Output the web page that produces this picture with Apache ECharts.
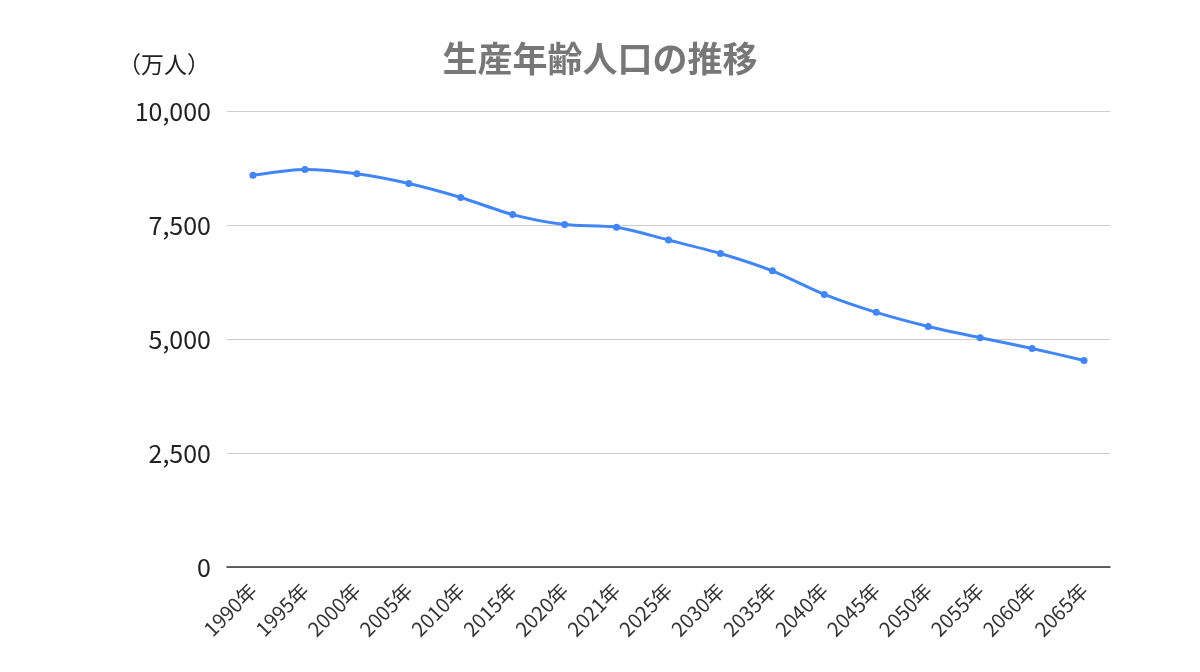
<!DOCTYPE html>
<html><head><meta charset="utf-8">
<script src="https://cdn.jsdelivr.net/npm/echarts@6/dist/echarts.min.js"></script>
<style>html,body{margin:0;padding:0;background:#fff}#c{width:1200px;height:672px}</style>
</head><body><div id="c"></div>
<script>
const categories = ['1990年','1995年','2000年','2005年','2010年','2015年','2020年','2021年','2025年','2030年','2035年','2040年','2045年','2050年','2055年','2060年','2065年'];
const values = [8590,8716,8622,8409,8103,7728,7509,7450,7170,6875,6494,5978,5584,5275,5028,4793,4529];
const yTicks = {min:0, max:10000, interval:2500};
const titleText = '生産年齢人口の推移';
const unitText = '（万人）';

const font = '"Noto Sans CJK JP","Noto Sans",sans-serif';
const chart = echarts.init(document.getElementById('c'), null, {renderer:'canvas'});
chart.setOption({
  animation:false,
  backgroundColor:'#fff',
  title:{text:titleText,left:'center',top:36,textStyle:{fontFamily:font,fontSize:35,fontWeight:'bold',color:'#777777'}},
  graphic:[{type:'text',left:118,top:53,style:{text:unitText,font:'23px '+font,fill:'#222'}}],
  grid:{left:227,right:90,top:111,bottom:105,containLabel:false},
  xAxis:{type:'category',data:categories,boundaryGap:true,
    axisLine:{lineStyle:{color:'#333',width:1.5}},axisTick:{show:false},
    axisLabel:{rotate:45,interval:0,margin:20,fontFamily:font,fontSize:20,color:'#333'}},
  yAxis:{type:'value',min:yTicks.min,max:yTicks.max,interval:yTicks.interval,
    axisLine:{show:false},axisTick:{show:false},
    splitLine:{lineStyle:{color:'#cccccc',width:1.2}},
    axisLabel:{margin:16,fontFamily:font,fontSize:25,color:'#222',
      formatter:v=>v.toLocaleString('en-US')}},
  series:[{type:'line',data:values,smooth:0.25,symbol:'circle',symbolSize:7,
    lineStyle:{color:'#4285f4',width:3},itemStyle:{color:'#4285f4'}}]
});
</script></body></html>
